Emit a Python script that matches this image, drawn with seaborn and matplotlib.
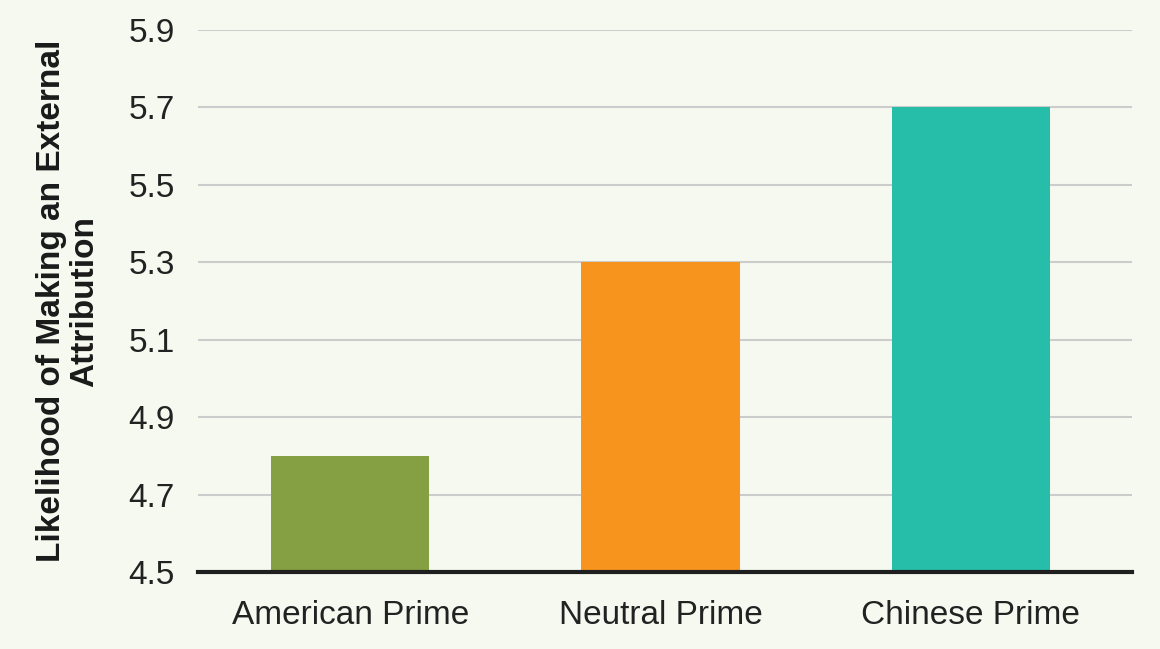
import matplotlib
matplotlib.use("Agg")
import matplotlib.pyplot as plt
import seaborn as sns
import pandas as pd

categories = ["American Prime", "Neutral Prime", "Chinese Prime"]
values = [4.8, 5.3, 5.7]
bar_colors = ["#84a042", "#f7941e", "#26bda9"]
y_ticks = [4.5, 4.7, 4.9, 5.1, 5.3, 5.5, 5.7, 5.9]

bg = "#f6f9f0"

sns.set_theme(style="white")
plt.rcParams["font.family"] = ["Liberation Sans", "DejaVu Sans"]

df = pd.DataFrame({"prime": categories, "likelihood": values})

fig = plt.figure(figsize=(11.6, 6.49), dpi=100, facecolor=bg)
ax = fig.add_axes([0.171, 0.1186, 0.805, 0.8352])
ax.set_facecolor(bg)

sns.barplot(data=df, x="prime", y="likelihood", hue="prime",
            palette=bar_colors, width=0.51, legend=False, ax=ax,
            saturation=1, linewidth=0, zorder=3)

ax.set_ylim(4.5, 5.9)
ax.set_xlim(-0.49, 2.52)
ax.set_yticks(y_ticks)
ax.set_yticklabels([f"{t:.1f}" for t in y_ticks])
ax.yaxis.grid(True, color="#cccccc", linewidth=1.5, zorder=0)
ax.set_axisbelow(True)

for s in ["top", "right", "left"]:
    ax.spines[s].set_visible(False)
ax.spines["bottom"].set_color("#1f1f1f")
ax.spines["bottom"].set_linewidth(3)
ax.spines["bottom"].set_zorder(5)

ax.tick_params(axis="both", length=0, labelsize=24, colors="#222222")
ax.tick_params(axis="x", pad=20)
ax.tick_params(axis="y", pad=17)

ax.set_xlabel("")
ax.set_ylabel("Likelihood of Making an External\nAttribution",
              fontsize=24, fontweight="bold", color="#1a1a1a",
              labelpad=20, linespacing=1.1)

fig.savefig("out.png", dpi=100, facecolor=bg)
